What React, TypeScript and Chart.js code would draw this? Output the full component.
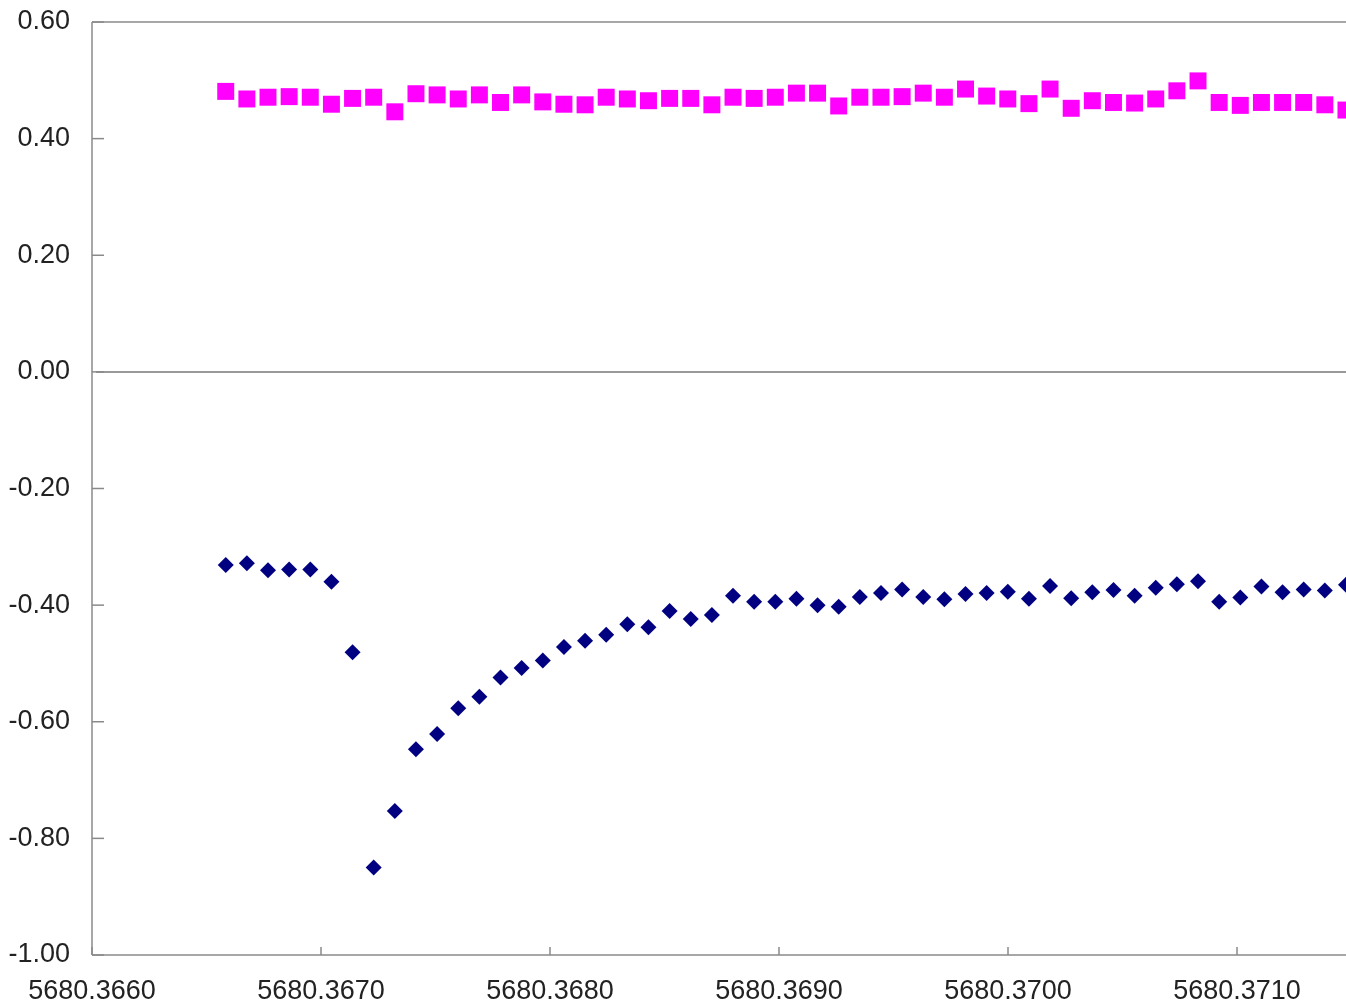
import React, { useEffect, useRef } from "react";
import { Chart, registerables } from "chart.js";

Chart.register(...registerables);

const X_VALUES = [
  5680.366584, 5680.3666763, 5680.3667686, 5680.3668609, 5680.3669532, 5680.3670455, 5680.3671378, 5680.3672301, 5680.3673224, 5680.3674147,
  5680.367507, 5680.3675993, 5680.3676916, 5680.3677839, 5680.3678762, 5680.3679685, 5680.3680608, 5680.3681531, 5680.3682454, 5680.3683377,
  5680.36843, 5680.3685223, 5680.3686146, 5680.3687069, 5680.3687992, 5680.3688915, 5680.3689838, 5680.3690761, 5680.3691684, 5680.3692607,
  5680.369353, 5680.3694453, 5680.3695376, 5680.3696299, 5680.3697222, 5680.3698145, 5680.3699068, 5680.3699991, 5680.3700914, 5680.3701837,
  5680.370276, 5680.3703683, 5680.3704606, 5680.3705529, 5680.3706452, 5680.3707375, 5680.3708298, 5680.3709221, 5680.3710144, 5680.3711067,
  5680.371199, 5680.3712913, 5680.3713836, 5680.3714759,
];

const PINK_VALUES = [
  0.481, 0.468, 0.471, 0.472, 0.471, 0.459, 0.469, 0.471, 0.446, 0.477,
  0.475, 0.468, 0.475, 0.462, 0.475, 0.463, 0.459, 0.458, 0.471, 0.468,
  0.465, 0.469, 0.469, 0.458, 0.471, 0.469, 0.471, 0.478, 0.478, 0.456,
  0.471, 0.471, 0.472, 0.478, 0.471, 0.485, 0.473, 0.468, 0.46, 0.485,
  0.452, 0.465, 0.462, 0.461, 0.468, 0.482, 0.499, 0.462, 0.457, 0.462,
  0.462, 0.462, 0.458, 0.449,
];

const BLUE_VALUES = [
  -0.331, -0.328, -0.34, -0.339, -0.339, -0.36, -0.481, -0.85, -0.753, -0.647,
  -0.621, -0.577, -0.557, -0.524, -0.508, -0.495, -0.472, -0.461, -0.451, -0.433,
  -0.438, -0.41, -0.424, -0.417, -0.384, -0.394, -0.394, -0.389, -0.4, -0.403,
  -0.386, -0.379, -0.373, -0.386, -0.39, -0.381, -0.379, -0.377, -0.389, -0.367,
  -0.388, -0.378, -0.374, -0.384, -0.37, -0.364, -0.359, -0.394, -0.387, -0.368,
  -0.378, -0.373, -0.375, -0.365,
];

const X_TICKS = [5680.366, 5680.367, 5680.368, 5680.369, 5680.37, 5680.371];
const Y_TICKS = [-1.0, -0.8, -0.6, -0.4, -0.2, 0.0, 0.2, 0.4, 0.6];
const X_MIN = 5680.366;
const X_MAX = 5680.371476;
const Y_MIN = -1.0;
const Y_MAX = 0.6;

const FONT = { family: "'Liberation Sans', Arial, sans-serif", size: 27 };
const TEXT_COLOR = "#222222";

const axesPlugin = {
  id: "excelAxes",
  beforeDatasetsDraw(chart: any) {
    const { ctx, chartArea, scales } = chart;
    const { left, right, top, bottom } = chartArea;
    const x = scales.x;
    const y = scales.y;
    const line = (x1: number, y1: number, x2: number, y2: number) => {
      ctx.beginPath();
      ctx.moveTo(x1, y1);
      ctx.lineTo(x2, y2);
      ctx.stroke();
    };
    ctx.save();
    ctx.strokeStyle = "#8a8a8a";
    ctx.lineWidth = 1.5;
    line(left, top, right, top);
    line(left, top, left, bottom);
    line(left, bottom, right, bottom);
    ctx.strokeStyle = "#999999";
    ctx.lineWidth = 2;
    const y0 = y.getPixelForValue(0);
    line(left + 4, y0, right, y0);
    ctx.strokeStyle = "#8a8a8a";
    ctx.lineWidth = 1.5;
    for (const v of Y_TICKS) {
      const py = y.getPixelForValue(v);
      line(left, py, left + 12, py);
    }
    for (const v of X_TICKS) {
      const px = x.getPixelForValue(v);
      line(px, bottom, px, bottom - 8);
    }
    ctx.restore();
  },
};

export default function App() {
  const canvasRef = useRef<HTMLCanvasElement | null>(null);

  useEffect(() => {
    document.body.style.margin = "0";
    const canvas = canvasRef.current;
    if (!canvas) return;
    const chart = new Chart(canvas, {
      type: "scatter",
      data: {
        datasets: [
          {
            label: "Series 1",
            data: X_VALUES.map((xv, i) => ({ x: xv, y: PINK_VALUES[i] })),
            pointStyle: "rect",
            pointRadius: 12,
            pointBackgroundColor: "#ff00ff",
            pointBorderColor: "#ff00ff",
            pointBorderWidth: 0,
            showLine: false,
          },
          {
            label: "Series 2",
            data: X_VALUES.map((xv, i) => ({ x: xv, y: BLUE_VALUES[i] })),
            pointStyle: "rectRot",
            pointRadius: 8,
            pointBackgroundColor: "#000080",
            pointBorderColor: "#000080",
            pointBorderWidth: 0,
            showLine: false,
          },
        ],
      },
      options: {
        responsive: false,
        animation: false,
        events: [],
        layout: { autoPadding: false, padding: { top: 22, right: 0, bottom: 0, left: 0 } },
        plugins: {
          legend: { display: false },
          tooltip: { enabled: false },
        },
        scales: {
          x: {
            type: "linear",
            min: X_MIN,
            max: X_MAX,
            grid: { display: false, drawTicks: false },
            border: { display: false },
            afterBuildTicks: (scale: any) => {
              scale.ticks = X_TICKS.map((v) => ({ value: v }));
            },
            afterFit: (scale: any) => {
              scale.height = 53;
              scale.paddingLeft = 0;
              scale.paddingRight = 0;
            },
            ticks: {
              autoSkip: false,
              maxRotation: 0,
              minRotation: 0,
              padding: 20,
              color: TEXT_COLOR,
              font: FONT,
              callback: (v: any) => Number(v).toFixed(4),
            },
          },
          y: {
            type: "linear",
            min: Y_MIN,
            max: Y_MAX,
            grid: { display: false, drawTicks: false },
            border: { display: false },
            afterBuildTicks: (scale: any) => {
              scale.ticks = Y_TICKS.map((v) => ({ value: v }));
            },
            afterFit: (scale: any) => {
              scale.width = 92;
              scale.paddingTop = 0;
              scale.paddingBottom = 0;
            },
            ticks: {
              autoSkip: false,
              padding: 22,
              color: TEXT_COLOR,
              font: FONT,
              callback: (v: any) => Number(v).toFixed(2),
            },
          },
        },
      },
      plugins: [axesPlugin],
    } as any);
    return () => chart.destroy();
  }, []);

  return (
    <div style={{ width: 1346, height: 1008, background: "#ffffff" }}>
      <canvas ref={canvasRef} width={1346} height={1008} style={{ display: "block" }} />
    </div>
  );
}
